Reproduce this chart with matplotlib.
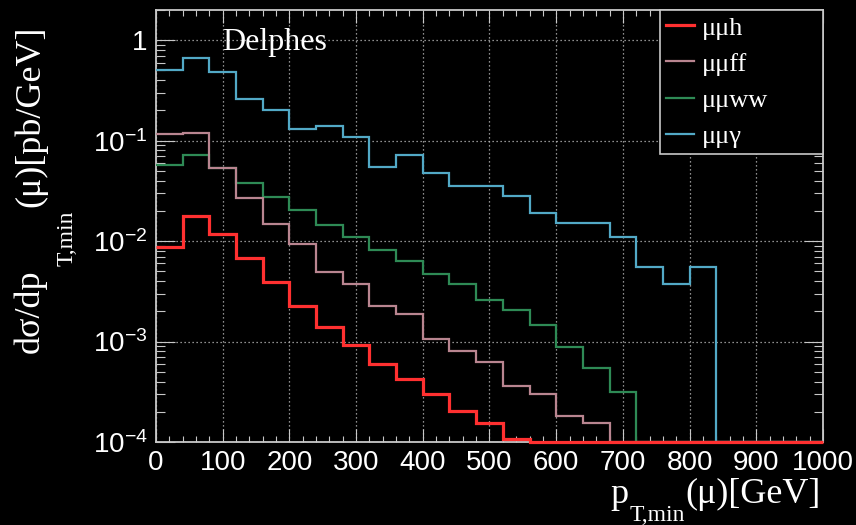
import numpy as np
import matplotlib
matplotlib.use("Agg")
import matplotlib.pyplot as plt
from matplotlib.ticker import MultipleLocator, LogLocator, FuncFormatter, NullFormatter

# ---- data: differential cross sections per 40 GeV bin of p_T,min(mu) ----
bin_edges = np.arange(0, 1001, 40)

xs_mumuh = [0.0087, 0.0179, 0.0119, 0.0068, 0.0039, 0.00228, 0.00139, 0.00093,
            0.00060, 0.00042, 0.00030, 0.000204, 0.000156, 0.000106,
            0, 0, 0, 0, 0, 0, 0, 0, 0, 0, 0]
xs_mumuff = [0.117, 0.120, 0.054, 0.0267, 0.0149, 0.0093, 0.0049, 0.0037,
             0.00226, 0.00188, 0.00105, 0.00081, 0.00062, 0.00036, 0.00030,
             0.00018, 0.000156, 0, 0, 0, 0, 0, 0, 0, 0]
xs_mumuww = [0.057, 0.072, 0.053, 0.0378, 0.0275, 0.0203, 0.0145, 0.0110,
             0.0081, 0.0063, 0.0047, 0.0037, 0.0026, 0.00206, 0.00145,
             0.00088, 0.00055, 0.000314, 0, 0, 0, 0, 0, 0, 0]
xs_mumugamma = [0.50, 0.67, 0.48, 0.26, 0.20, 0.13, 0.14, 0.11, 0.055, 0.072,
                0.048, 0.035, 0.035, 0.028, 0.019, 0.015, 0.015, 0.011,
                0.0055, 0.0037, 0.0055, 0, 0, 0, 0]

series_labels = ["μμh", "μμff", "μμww", "μμγ"]
series_colors = ["#ff3030", "#b98590", "#2e8a55", "#52a9c6"]
series_widths = [2.3, 1.6, 1.6, 1.6]
series_values = [xs_mumuh, xs_mumuff, xs_mumuww, xs_mumugamma]

x_range = (0, 1000)
y_range = (1e-4, 2.0)

# ---- styling ----
FG = "#c8c8c8"
SANS = ["Liberation Sans", "DejaVu Sans"]
SERIF = ["Liberation Serif", "DejaVu Serif"]
plt.rcParams["font.family"] = SANS
plt.rcParams["mathtext.fontset"] = "custom"
plt.rcParams["mathtext.rm"] = "Liberation Sans"

W, H = 856, 525
fig = plt.figure(figsize=(W / 100, H / 100), dpi=100, facecolor="black")
ax = fig.add_axes([156 / W, 1 - 442 / H, (823 - 156) / W, (442 - 10) / H],
                  facecolor="black")

# histograms: empty bins sit on the floor of the log axis
handles = []
order = [3, 2, 1, 0]
for i in order:
    vals = np.clip(np.asarray(series_values[i], dtype=float), y_range[0], None)
    ax.stairs(vals, bin_edges, baseline=None, color=series_colors[i],
              linewidth=series_widths[i], clip_on=False, zorder=3 + (3 - i))
for i in range(4):
    handles.append(plt.Line2D([], [], color=series_colors[i],
                              linewidth=series_widths[i]))

ax.set_yscale("log")
ax.set_xlim(*x_range)
ax.set_ylim(*y_range)

ax.xaxis.set_major_locator(MultipleLocator(100))
ax.xaxis.set_minor_locator(MultipleLocator(20))
ax.yaxis.set_major_locator(LogLocator(base=10, numticks=10))
ax.yaxis.set_minor_locator(LogLocator(base=10, subs=np.arange(2, 10), numticks=20))
ax.yaxis.set_minor_formatter(NullFormatter())


def log_label(v, pos):
    e = int(round(np.log10(v)))
    if e == 0:
        return "1"
    return r"$\mathdefault{10^{%d}}$" % e


ax.yaxis.set_major_formatter(FuncFormatter(log_label))

ax.tick_params(axis="both", which="both", direction="in", top=True, right=True,
               color=FG, labelcolor="white", width=0.8, labelsize=20)
ax.tick_params(axis="x", which="major", length=9.5, pad=6)
ax.tick_params(axis="x", which="minor", length=4.5)
ax.tick_params(axis="y", which="major", length=13.5, pad=6)
ax.tick_params(axis="y", which="minor", length=6.5)

for s in ax.spines.values():
    s.set_color(FG)
    s.set_linewidth(1.3)

ax.grid(True, which="major", color="#bdbdbd", linestyle=(0, (1, 2.2)),
        linewidth=0.9)
ax.set_axisbelow(True)

ax.text(0.099, 0.907, "Delphes", transform=ax.transAxes, color="white",
        fontsize=23, family=SERIF, ha="left", va="baseline")

leg = ax.legend(handles, series_labels, loc="upper left",
                bbox_to_anchor=((660 - 156) / 667, 0, (823 - 660) / 667, 1),
                mode="expand", borderaxespad=0, fancybox=False,
                prop={"family": SERIF, "size": 19}, labelcolor="white",
                handlelength=1.06, handletextpad=0.3, borderpad=0.23,
                labelspacing=0.48, framealpha=1)
leg.get_frame().set_facecolor("black")
leg.get_frame().set_edgecolor(FG)
leg.get_frame().set_linewidth(1.2)
leg.set_zorder(10)

# ---- axis titles built from pieces: main text plus lowered subscript ----
renderer = fig.canvas.get_renderer()
MAIN, SUB = 26, 17


def px(x, y):
    return x / W, 1 - y / H


# x title, right aligned at the end of the axis
t1 = fig.text(*px(821, 503), "(μ)[GeV]", color="white", family=SERIF,
              fontsize=MAIN, ha="right", va="baseline")
b1 = t1.get_window_extent(renderer)
t2 = fig.text((b1.x0 - 1) / W, 4 / H, "T,min", color="white", family=SERIF,
              fontsize=SUB, ha="right", va="baseline")
b2 = t2.get_window_extent(renderer)
fig.text((b2.x0 - 1) / W, (H - 503) / H, "p", color="white", family=SERIF,
         fontsize=MAIN, ha="right", va="baseline")

# y title, rotated, reading upwards from the bottom
YBASE = 39
y1 = fig.text(*px(YBASE, 353), "dσ/dp", color="white", family=SERIF,
              fontsize=MAIN, rotation=90, rotation_mode="anchor", ha="left",
              va="baseline")
c1 = y1.get_window_extent(renderer)
y2 = fig.text(73 / W, (c1.y1 + 3) / H, "T,min", color="white", family=SERIF,
              fontsize=SUB, rotation=90, rotation_mode="anchor", ha="left",
              va="baseline")
c2 = y2.get_window_extent(renderer)
fig.text(YBASE / W, (c2.y1 + 4) / H, "(μ)[pb/GeV]", color="white",
         family=SERIF, fontsize=MAIN, rotation=90, rotation_mode="anchor",
         ha="left", va="baseline")

fig.savefig("out.png", dpi=100, facecolor="black")
